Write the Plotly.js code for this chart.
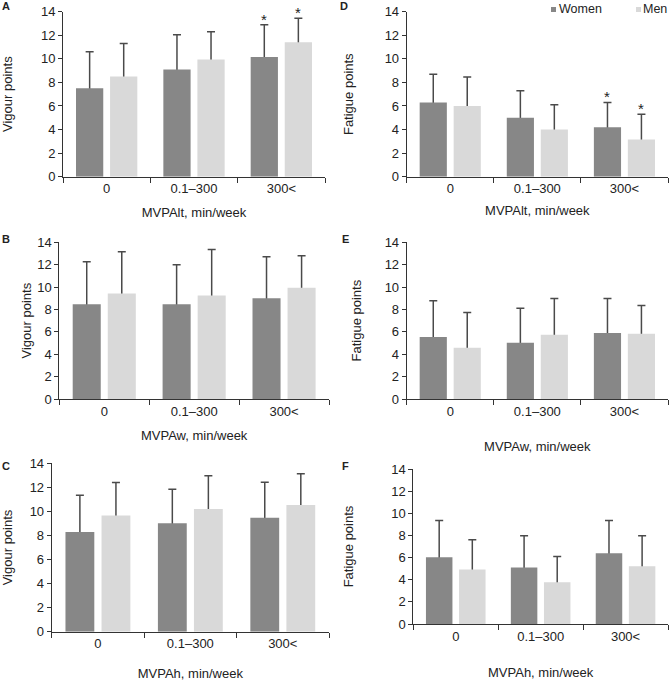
<!DOCTYPE html>
<html><head><meta charset="utf-8">
<script src="https://cdn.plot.ly/plotly-3.0.1.min.js"></script>
<style>html,body{margin:0;padding:0;background:#fff}#chart{width:669px;height:682px}</style>
</head><body><div id="chart"></div>
<script>
// ---- data ----
const categories = ['0', '0.1–300', '300<'];
const seriesNames = ['Women', 'Men'];

// A: vigour vs MVPAlt
const vigourLtWomen = [7.5, 9.1, 10.15];
const vigourLtWomenSd = [3.1, 2.95, 2.75];
const vigourLtMen = [8.5, 9.95, 11.4];
const vigourLtMenSd = [2.8, 2.35, 2.05];
const vigourLtSigWomen = [false, false, true];
const vigourLtSigMen = [false, false, true];
// B: vigour vs MVPAw
const vigourWWomen = [8.47, 8.47, 9.0];
const vigourWWomenSd = [3.8, 3.53, 3.72];
const vigourWMen = [9.42, 9.25, 9.95];
const vigourWMenSd = [3.73, 4.1, 2.85];
// C: vigour vs MVPAh
const vigourHWomen = [8.29, 9.01, 9.48];
const vigourHWomenSd = [3.06, 2.83, 2.94];
const vigourHMen = [9.66, 10.2, 10.53];
const vigourHMenSd = [2.74, 2.77, 2.6];
// D: fatigue vs MVPAlt
const fatigueLtWomen = [6.3, 5.0, 4.2];
const fatigueLtWomenSd = [2.4, 2.3, 2.1];
const fatigueLtMen = [6.0, 4.0, 3.15];
const fatigueLtMenSd = [2.45, 2.1, 2.15];
const fatigueLtSigWomen = [false, false, true];
const fatigueLtSigMen = [false, false, true];
// E: fatigue vs MVPAw
const fatigueWWomen = [5.53, 5.03, 5.9];
const fatigueWWomenSd = [3.25, 3.07, 3.07];
const fatigueWMen = [4.58, 5.74, 5.82];
const fatigueWMenSd = [3.15, 3.23, 2.53];
// F: fatigue vs MVPAh
const fatigueHWomen = [6.02, 5.1, 6.39];
const fatigueHWomenSd = [3.32, 2.88, 2.95];
const fatigueHMen = [4.92, 3.77, 5.22];
const fatigueHMenSd = [2.7, 2.33, 2.76];

const yTickVals = [0, 2, 4, 6, 8, 10, 12, 14];

// ---- styling / layout ----
const W = 669, H = 682;
const FONT = 'Liberation Sans, Arial, sans-serif';
const womenColor = '#878787', menColor = '#d9d9d9', errColor = '#4a4a4a', axisColor = '#333', textColor = '#222';

const panels = [
  {letter:'A', xt:'MVPAlt, min/week', yt:'Vigour points', w:vigourLtWomen, ws:vigourLtWomenSd, m:vigourLtMen, ms:vigourLtMenSd, sw:vigourLtSigWomen, sm:vigourLtSigMen,
   px:[63,325], py:[11.7,176.7], ys:32, xs:12, lab:[6.5,6.5]},
  {letter:'B', xt:'MVPAw, min/week', yt:'Vigour points', w:vigourWWomen, ws:vigourWWomenSd, m:vigourWMen, ms:vigourWMenSd,
   px:[59.3,329], py:[242.3,399], ys:2, xs:13, lab:[6.5,238.5]},
  {letter:'C', xt:'MVPAh, min/week', yt:'Vigour points', w:vigourHWomen, ws:vigourHWomenSd, m:vigourHMen, ms:vigourHMenSd,
   px:[51.7,329], py:[463.3,631.7], ys:29, xs:18, lab:[5.5,466.5]},
  {letter:'D', xt:'MVPAlt, min/week', yt:'Fatigue points', w:fatigueLtWomen, ws:fatigueLtWomenSd, m:fatigueLtMen, ms:fatigueLtMenSd, sw:fatigueLtSigWomen, sm:fatigueLtSigMen,
   px:[406.7,668], py:[11.7,176.7], ys:28, xs:10, lab:[343.5,6.5]},
  {letter:'E', xt:'MVPAw, min/week', yt:'Fatigue points', w:fatigueWWomen, ws:fatigueWWomenSd, m:fatigueWMen, ms:fatigueWMenSd,
   px:[406.7,668], py:[242.3,399], ys:20, xs:24, lab:[345,238.5]},
  {letter:'F', xt:'MVPAh, min/week', yt:'Fatigue points', w:fatigueHWomen, ws:fatigueHWomenSd, m:fatigueHMen, ms:fatigueHMenSd,
   px:[413.3,668], py:[469,624], ys:34, xs:25, lab:[345,466.5]}
];

const data = [];
const layout = {
  width: W, height: H,
  margin: {l:0, r:0, t:0, b:0, autoexpand:false},
  paper_bgcolor: '#fff', plot_bgcolor: '#fff',
  barmode: 'group', bargap: 0.22, bargroupgap: 0.2,
  font: {family: FONT, size: 13, color: textColor},
  showlegend: false,
  annotations: []
};

panels.forEach((p, i) => {
  const n = i === 0 ? '' : String(i + 1);
  const xa = 'x' + n, ya = 'y' + n;
  const errStyle = arr => ({type:'data', array: arr, symmetric:true, visible:true, color: errColor, thickness:1.5, width:4});
  // error bars (drawn underneath the opaque bars so only the upper half shows)
  data.push({type:'bar', name:seriesNames[0] + ' SD', x:categories, y:p.w, xaxis:xa, yaxis:ya, offsetgroup:'w', marker:{color:'rgba(0,0,0,0)'},
             error_y: errStyle(p.ws), showlegend:false, hoverinfo:'skip'});
  data.push({type:'bar', name:seriesNames[1] + ' SD', x:categories, y:p.m, xaxis:xa, yaxis:ya, offsetgroup:'m', marker:{color:'rgba(0,0,0,0)'},
             error_y: errStyle(p.ms), showlegend:false, hoverinfo:'skip'});
  data.push({type:'bar', name:seriesNames[0], x:categories, y:p.w, xaxis:xa, yaxis:ya, offsetgroup:'w',
             marker:{color:womenColor}});
  data.push({type:'bar', name:seriesNames[1], x:categories, y:p.m, xaxis:xa, yaxis:ya, offsetgroup:'m',
             marker:{color:menColor}});

  layout['xaxis' + n] = {
    domain:[p.px[0]/W, p.px[1]/W], anchor: ya, type:'category', tickson:'boundaries',
    ticks:'outside', ticklen:5, tickcolor:axisColor, showline:true, linecolor:axisColor, linewidth:1,
    showgrid:false, zeroline:false, fixedrange:true,
    tickfont:{family:FONT, size:13, color:textColor},
    title:{text:p.xt, font:{family:FONT, size:13, color:textColor}, standoff:p.xs}
  };
  layout['yaxis' + n] = {
    domain:[1 - p.py[1]/H, 1 - p.py[0]/H], anchor: xa, range:[0,14], tickvals: yTickVals,
    ticks:'outside', ticklen:4, tickcolor:axisColor, showline:true, linecolor:axisColor, linewidth:1,
    showgrid:false, zeroline:false, fixedrange:true,
    tickfont:{family:FONT, size:13, color:textColor},
    title:{text:p.yt, font:{family:FONT, size:13, color:textColor}, standoff:p.ys}
  };

  layout.annotations.push({xref:'paper', yref:'paper', x:p.lab[0]/W, y:1 - p.lab[1]/H, xanchor:'center', yanchor:'middle',
    text:'<b>' + p.letter + '</b>', showarrow:false, font:{family:FONT, size:11, color:textColor}});

  // significance stars above the error bars
  const addStars = (sig, vals, sds, shift) => {
    if (!sig) return;
    sig.forEach((s, k) => {
      if (!s) return;
      layout.annotations.push({xref:xa, yref:ya, x:categories[k], y:vals[k] + sds[k], xshift:shift, yshift:-5,
        xanchor:'center', yanchor:'bottom', text:'*', showarrow:false, font:{family:FONT, size:15, color:textColor}});
    });
  };
  addStars(p.sw, p.w, p.ws, -17);
  addStars(p.sm, p.m, p.ms, 17);
});

// legend (top right of panel D): colour key squares + series names
const legendItems = [
  {name: seriesNames[0], color: womenColor, sq: 553.5, tx: 558.5},
  {name: seriesNames[1], color: menColor, sq: 638.5, tx: 643}
];
legendItems.forEach(it => {
  layout.annotations.push({xref:'paper', yref:'paper', x: it.sq/W, y: 1 - 9.5/H, xanchor:'center', yanchor:'middle',
    text:' ', width:5, height:5, borderpad:0, borderwidth:0, bgcolor: it.color, showarrow:false, font:{size:4}});
  layout.annotations.push({xref:'paper', yref:'paper', x: it.tx/W, y: 1 - 9.5/H, xanchor:'left', yanchor:'middle',
    text: it.name, showarrow:false, borderpad:0, borderwidth:0, font:{family:FONT, size:12.5, color:textColor}});
});

Plotly.newPlot('chart', data, layout, {displayModeBar:false, responsive:false});
</script>
</body></html>
